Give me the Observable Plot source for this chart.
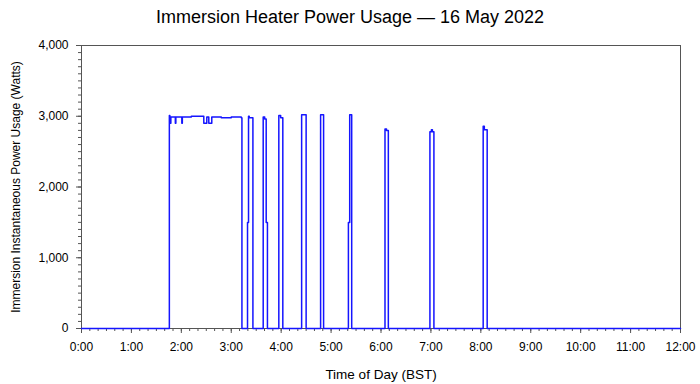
<!DOCTYPE html>
<html>
<head>
<meta charset="utf-8">
<script src="https://cdn.jsdelivr.net/npm/d3@7"></script>
<script src="https://cdn.jsdelivr.net/npm/@observablehq/plot@0.6"></script>
<style>
  html, body { margin: 0; padding: 0; background: #fff; }
  #title { width: 700px; height: 30px; padding-top: 4px; box-sizing: border-box; display: flex; align-items: center; justify-content: center;
    font-family: "Liberation Sans", Arial, sans-serif; font-size: 18px; color: #000; }
</style>
</head>
<body>
<div id="title">Immersion Heater Power Usage — 16 May 2022</div>
<div id="chart"></div>
<script>
// Time of day in hours (BST) and instantaneous power (Watts)
const times = [0, 1.76, 1.77, 1.78, 1.79, 1.88, 1.89, 2.01, 2.02, 2.2, 2.45, 2.51, 2.55, 2.61, 2.8, 3.0, 3.2, 3.214,
  3.326, 3.346, 3.36, 3.434,
  3.64, 3.67, 3.70, 3.725,
  3.953, 3.99, 4.033,
  4.41, 4.50,
  4.79, 4.85,
  5.347, 5.373, 5.413,
  6.08, 6.11, 6.147,
  6.98, 7.01, 7.03, 7.06,
  8.047, 8.07, 8.127,
  12];
const watts = [0, 3010, 2990, 2900, 2990, 2900, 2990, 2900, 2990, 3000, 2900, 2990, 2900, 2990, 2980, 2990, 2980, 0,
  1500, 3000, 2980, 0,
  2990, 2960, 1500, 0,
  3010, 2980, 0,
  3020, 0,
  3020, 0,
  1500, 3020, 0,
  2820, 2800, 0,
  2780, 2810, 2780, 0,
  2860, 2810, 0,
  0];
const xTicks = [0,1,2,3,4,5,6,7,8,9,10,11,12];
const yTicks = [0,1000,2000,3000,4000];

const data = times.map((t, i) => ({t, w: watts[i]}));

const chart = Plot.plot({
  width: 700, height: 354,
  marginLeft: 81, marginRight: 20, marginTop: 15, marginBottom: 56,
  style: {fontFamily: "'Liberation Sans', Arial, sans-serif", fontSize: "12px", color: "#000", background: "#fff"},
  x: {domain: [0, 12]},
  y: {domain: [0, 4000]},
  marks: [
    Plot.axisX(xTicks, {tickFormat: d => `${d}:00`, tickSize: 5, tickPadding: 9, stroke: "#555", fontSize: 12,
      label: null}),
    Plot.axisX({label: "Time of Day (BST)", labelAnchor: "center", labelArrow: "none", labelOffset: 50,
      ticks: [], fontSize: 13.5}),
    Plot.axisX(d3.range(0, 73).map(i => i / 6), {tickSize: 3, text: null, label: null, stroke: "#555"}),
    Plot.axisY(yTicks, {tickFormat: d3.format(","), tickSize: 5, tickPadding: 8, stroke: "#555", fontSize: 12,
      label: "Immersion Instantaneous Power Usage (Watts)", labelAnchor: "center", labelArrow: "none", labelOffset: 70}),
    Plot.axisY(d3.range(0, 4001, 100), {tickSize: 3, text: null, label: null, stroke: "#555"}),
    Plot.frame({stroke: "#555"}),
    Plot.line(data, {x: "t", y: "w", curve: "step-after", stroke: "#1515ff", strokeWidth: 1.5})
  ]
});
document.getElementById("chart").appendChild(chart);
</script>
</body>
</html>
